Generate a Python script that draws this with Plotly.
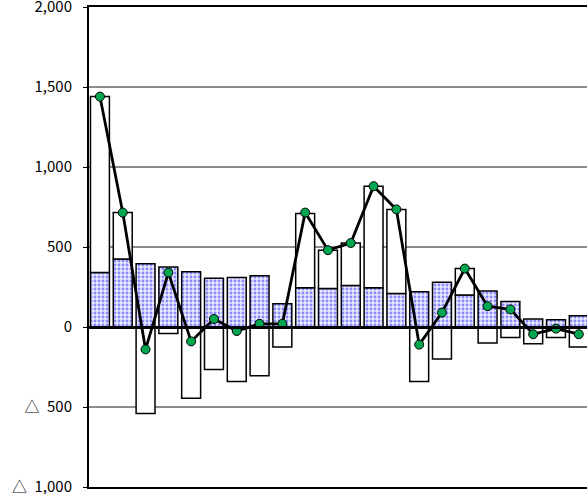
import plotly.graph_objects as go

categories = [str(i) for i in range(1, 23)]
base_values = [340, 425, 395, 375, 345, 305, 310, 320, 145, 245, 240, 260, 245, 210, 220, 280, 200, 225, 160, 50, 45, 70]
change_values = [1100, 290, -540, -40, -445, -265, -340, -305, -125, 465, 240, 265, 635, 525, -340, -200, 165, -100, -65, -105, -65, -125]
total_values = [1440, 715, -140, 340, -90, 50, -25, 20, 20, 715, 480, 525, 880, 735, -110, 90, 365, 130, 110, -45, -10, -45]

tick_vals = [-1000, -500, 0, 500, 1000, 1500, 2000]
tick_text = ["△\u20021,000", "△\u2002500", "0", "500", "1,000", "1,500", "2,000"]

fig = go.Figure()
fig.add_trace(go.Bar(
    x=categories, y=base_values, width=0.83,
    marker=dict(color="#e8e8ff",
                line=dict(color="black", width=1.5),
                pattern=dict(shape=".", fgcolor="#2a2aff", bgcolor="#e8e8ff", size=4, solidity=0.4)),
    showlegend=False,
))
fig.add_trace(go.Bar(
    x=categories, y=change_values, width=0.83,
    marker=dict(color="white", line=dict(color="black", width=1.5)),
    showlegend=False,
))
fig.add_trace(go.Scatter(
    x=categories, y=total_values, mode="lines+markers",
    line=dict(color="black", width=2.8),
    marker=dict(color="#00a550", size=9, line=dict(color="black", width=1)),
    showlegend=False,
))

fig.update_layout(
    width=587, height=494,
    margin=dict(l=89, r=0, t=7, b=7),
    barmode="relative",
    plot_bgcolor="white", paper_bgcolor="white",
    font=dict(family="Noto Sans CJK JP, DejaVu Sans, sans-serif", size=15, color="black"),
)
fig.update_xaxes(
    type="category", range=[-0.48, 21.36],
    showticklabels=False, ticks="", showgrid=False,
    showline=True, mirror=True, linecolor="black", linewidth=2,
    automargin=False,
)
fig.update_yaxes(
    range=[-1000, 2000], tickvals=tick_vals, ticktext=tick_text,
    showgrid=True, gridcolor="#8c8c8c", gridwidth=1.5,
    zeroline=True, zerolinecolor="black", zerolinewidth=3,
    zerolinelayer="above traces",
    showline=True, linecolor="black", linewidth=2,
    ticks="outside", ticklen=4, tickcolor="black", tickwidth=1,
    ticklabelstandoff=8, ticklabeloverflow="allow",
    automargin=False,
)

fig.write_html("out.html", config={"displayModeBar": False},
               post_script="document.body.style.margin='0';document.body.style.overflow='hidden';")
